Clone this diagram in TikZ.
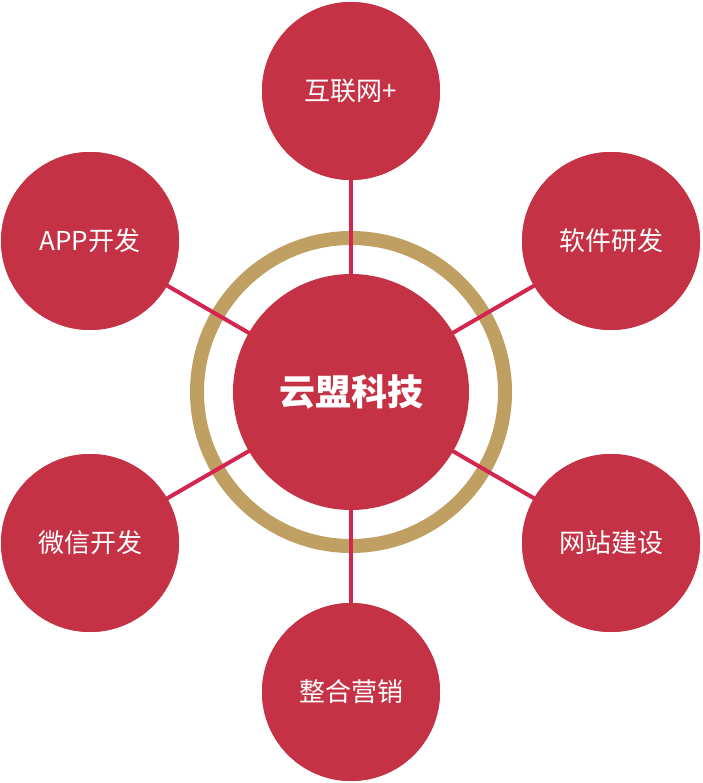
\documentclass[tikz,border=0pt]{standalone}
\usepackage{fontspec}
\newfontfamily\cjk{Noto Sans CJK SC}
\begin{document}
\begin{tikzpicture}[x=1pt,y=-1pt,
  outer/.style={circle,fill=cred,minimum size=178pt,inner sep=0pt,text=white,font=\cjk\fontsize{26}{30}\selectfont},
  link/.style={draw=cline,line width=4pt}]
\definecolor{cred}{HTML}{C63245}
\definecolor{cline}{HTML}{D42550}
\definecolor{cgold}{HTML}{C0A062}
\useasboundingbox (0,0) rectangle (702,783);
\coordinate (c0) at (351,392);
\draw[cgold,line width=14pt] (c0) circle[radius=154pt];
\node[outer] (t) at (351,91) {互联网+};
\node[outer] (tl) at (90,241) {APP开发};
\node[outer] (tr) at (611,241) {软件研发};
\node[outer] (bl) at (90,543) {微信开发};
\node[outer] (br) at (611,543) {网站建设};
\node[outer] (b) at (351,692) {整合营销};
\begin{scope}[on background layer/.style={}]
\foreach \n in {t,tl,tr,bl,br,b} \draw[link] (c0) -- (\n.center);
\end{scope}
\foreach \n/\l in {t/互联网+,tl/APP开发,tr/软件研发,bl/微信开发,br/网站建设,b/整合营销}
  \node[outer] at (\n) {\l};
\node[circle,fill=cred,minimum size=236pt,inner sep=0pt,text=white,font=\cjk\bfseries\fontsize{36}{40}\selectfont] (c) at (c0) {云盟科技};
\end{tikzpicture}
\end{document}
